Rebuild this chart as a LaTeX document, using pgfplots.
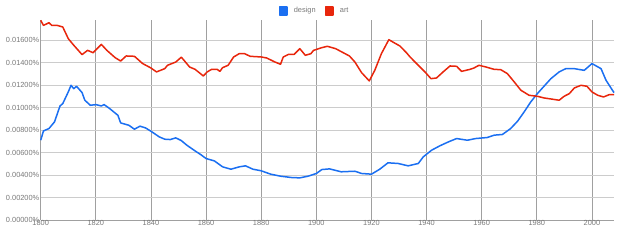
\documentclass[border=0pt]{standalone}
\usepackage{fontspec}
\setmainfont{Liberation Sans}
\usepackage{pgfplots}
\pgfplotsset{compat=1.18}
\definecolor{ngblue}{RGB}{27,111,241}
\definecolor{ngred}{RGB}{232,38,12}
\definecolor{ticktxt}{RGB}{120,120,120}
\definecolor{hgrid}{RGB}{204,204,204}
\definecolor{vgrid}{RGB}{160,160,160}
\begin{document}
\begin{tikzpicture}
\begin{axis}[
  name=ax,
  scale only axis,
  width=573pt, height=200pt,
  xmin=1800, xmax=2008,
  ymin=0, ymax=0.01781,
  axis x line=bottom, axis y line=left,
  axis line style={draw=vgrid, line width=0.9pt, -},
  xtick={1800,1820,...,2000},
  ytick={0,0.002,0.004,0.006,0.008,0.010,0.012,0.014,0.016},
  scaled y ticks=false,
  major tick length=0pt,
  grid=major,
  x grid style={draw=vgrid, line width=0.8pt},
  y grid style={draw=hgrid, line width=0.8pt},
  tick label style={font=\fontsize{7.4}{9}\selectfont, text=ticktxt},
  /pgf/number format/assume math mode=true,
  xticklabel style={/pgf/number format/1000 sep={}, anchor=north, inner sep=0pt, yshift=-0.3pt},
  yticklabel style={anchor=east, inner sep=0pt, xshift=-1.2pt},
  yticklabel={\pgfmathprintnumber[fixed, fixed zerofill, precision=5]{\tick}\%},
  clip=false,
  legend columns=2,
  legend style={at={(rel axis cs:0.4147,1.045)}, anchor=west, draw=none, fill=none,
    inner sep=0pt, font=\fontsize{7.4}{9}\selectfont, text=ticktxt,
    cells={inner sep=0pt},
    /tikz/every odd column/.style={column sep=4pt},
    /tikz/every even column/.style={column sep=7pt}},
  legend image code/.code={\fill[#1] (0pt,-3.85pt) rectangle (7.7pt,3.85pt);},
  every axis plot/.append style={line width=1.5pt, line join=round},
]
\addplot[color=ngblue] coordinates {
(1800,0.00711)(1801,0.00794)(1803,0.00815)(1805,0.00874)(1807,0.01016)(1808,0.01037)
(1810,0.01141)(1811,0.01200)(1812,0.01170)(1813,0.01191)(1815,0.01135)(1816,0.01067)
(1818,0.01022)(1820,0.01028)(1822,0.01016)(1823,0.01028)(1825,0.00993)(1828,0.00933)
(1829,0.00865)(1832,0.00844)(1834,0.00809)(1836,0.00836)(1838,0.00821)(1840,0.00791)
(1843,0.00741)(1845,0.00720)(1847,0.00717)(1849,0.00732)(1851,0.00708)(1853,0.00667)
(1856,0.00616)(1858,0.00584)(1860,0.00548)(1863,0.00527)(1866,0.00474)(1869,0.00453)
(1872,0.00474)(1874.3,0.00483)(1877,0.00453)(1880,0.00439)(1883.4,0.00409)(1887,0.00391)
(1891,0.00379)(1894,0.00376)(1897,0.00391)(1900,0.00415)(1902,0.00450)(1904.8,0.00456)
(1909,0.00430)(1914,0.00435)(1916.4,0.00415)(1920,0.00409)(1923,0.00453)(1926,0.00510)
(1929.7,0.00504)(1933.3,0.00483)(1937,0.00504)(1938.8,0.00563)(1941.8,0.00622)(1944.8,0.00661)
(1947.9,0.00696)(1950.9,0.00726)(1954.8,0.00711)(1957.8,0.00726)(1962,0.00735)(1964.5,0.00756)
(1967.5,0.00762)(1970.5,0.00815)(1973,0.00880)(1975.4,0.00963)(1977.8,0.01052)(1980.2,0.01126)
(1982.7,0.01194)(1985.1,0.01259)(1988.1,0.01319)(1990.5,0.01348)(1993.6,0.01348)(1997.2,0.01333)
(2000,0.01393)(2003.3,0.01348)(2005.1,0.01245)(2006.9,0.01176)(2008,0.01135)
};
\addlegendentry{design}
\addplot[color=ngred] coordinates {
(1800,0.01778)(1801,0.01733)(1803,0.01757)(1804,0.01733)(1806,0.01733)(1808,0.01719)
(1810,0.01615)(1812,0.01556)(1815,0.01473)(1817,0.01511)(1819,0.01490)(1822,0.01564)
(1824,0.01511)(1827,0.01446)(1829,0.01416)(1831,0.01461)(1834,0.01458)(1837,0.01393)
(1840,0.01354)(1842,0.01319)(1845,0.01348)(1846,0.01378)(1849,0.01407)(1851,0.01450)
(1852,0.01422)(1854,0.01363)(1856,0.01342)(1859,0.01283)(1860.4,0.01319)(1862,0.01342)
(1864,0.01342)(1865,0.01324)(1866,0.01357)(1868,0.01378)(1870,0.01452)(1872,0.01481)
(1874,0.01481)(1876,0.01458)(1880,0.01452)(1882,0.01443)(1885,0.01407)(1887,0.01387)
(1888,0.01452)(1890,0.01476)(1892,0.01476)(1894,0.01526)(1896,0.01467)(1898,0.01481)
(1899,0.01511)(1902,0.01535)(1904,0.01547)(1907,0.01526)(1910,0.01487)(1912,0.01461)
(1914,0.01407)(1916.4,0.01313)(1919.2,0.01239)(1921.2,0.01333)(1923.6,0.01481)(1926.3,0.01606)
(1928.2,0.01579)(1930.3,0.01550)(1932.7,0.01490)(1934,0.01452)(1937,0.01378)(1939.4,0.01319)
(1941.6,0.01259)(1943.6,0.01265)(1946,0.01319)(1948.5,0.01372)(1950.9,0.01369)(1952.7,0.01324)
(1955.8,0.01342)(1957.2,0.01354)(1959,0.01378)(1961.5,0.01363)(1964.5,0.01342)(1966.9,0.01339)
(1969.3,0.01304)(1971.8,0.01230)(1974.2,0.01156)(1977.2,0.01111)(1980.2,0.01102)(1982.7,0.01087)
(1985.7,0.01076)(1988.1,0.01067)(1989.9,0.01102)(1991.8,0.01126)(1993.6,0.01176)(1996,0.01200)
(1998.2,0.01191)(2000,0.01141)(2002.1,0.01111)(2004.2,0.01096)(2006.3,0.01117)(2008,0.01117)
};
\addlegendentry{art}
\end{axis}
\path ([xshift=-40.7pt,yshift=-21pt]ax.south west) rectangle ([xshift=6pt,yshift=20pt]ax.north east);
\end{tikzpicture}
\end{document}
